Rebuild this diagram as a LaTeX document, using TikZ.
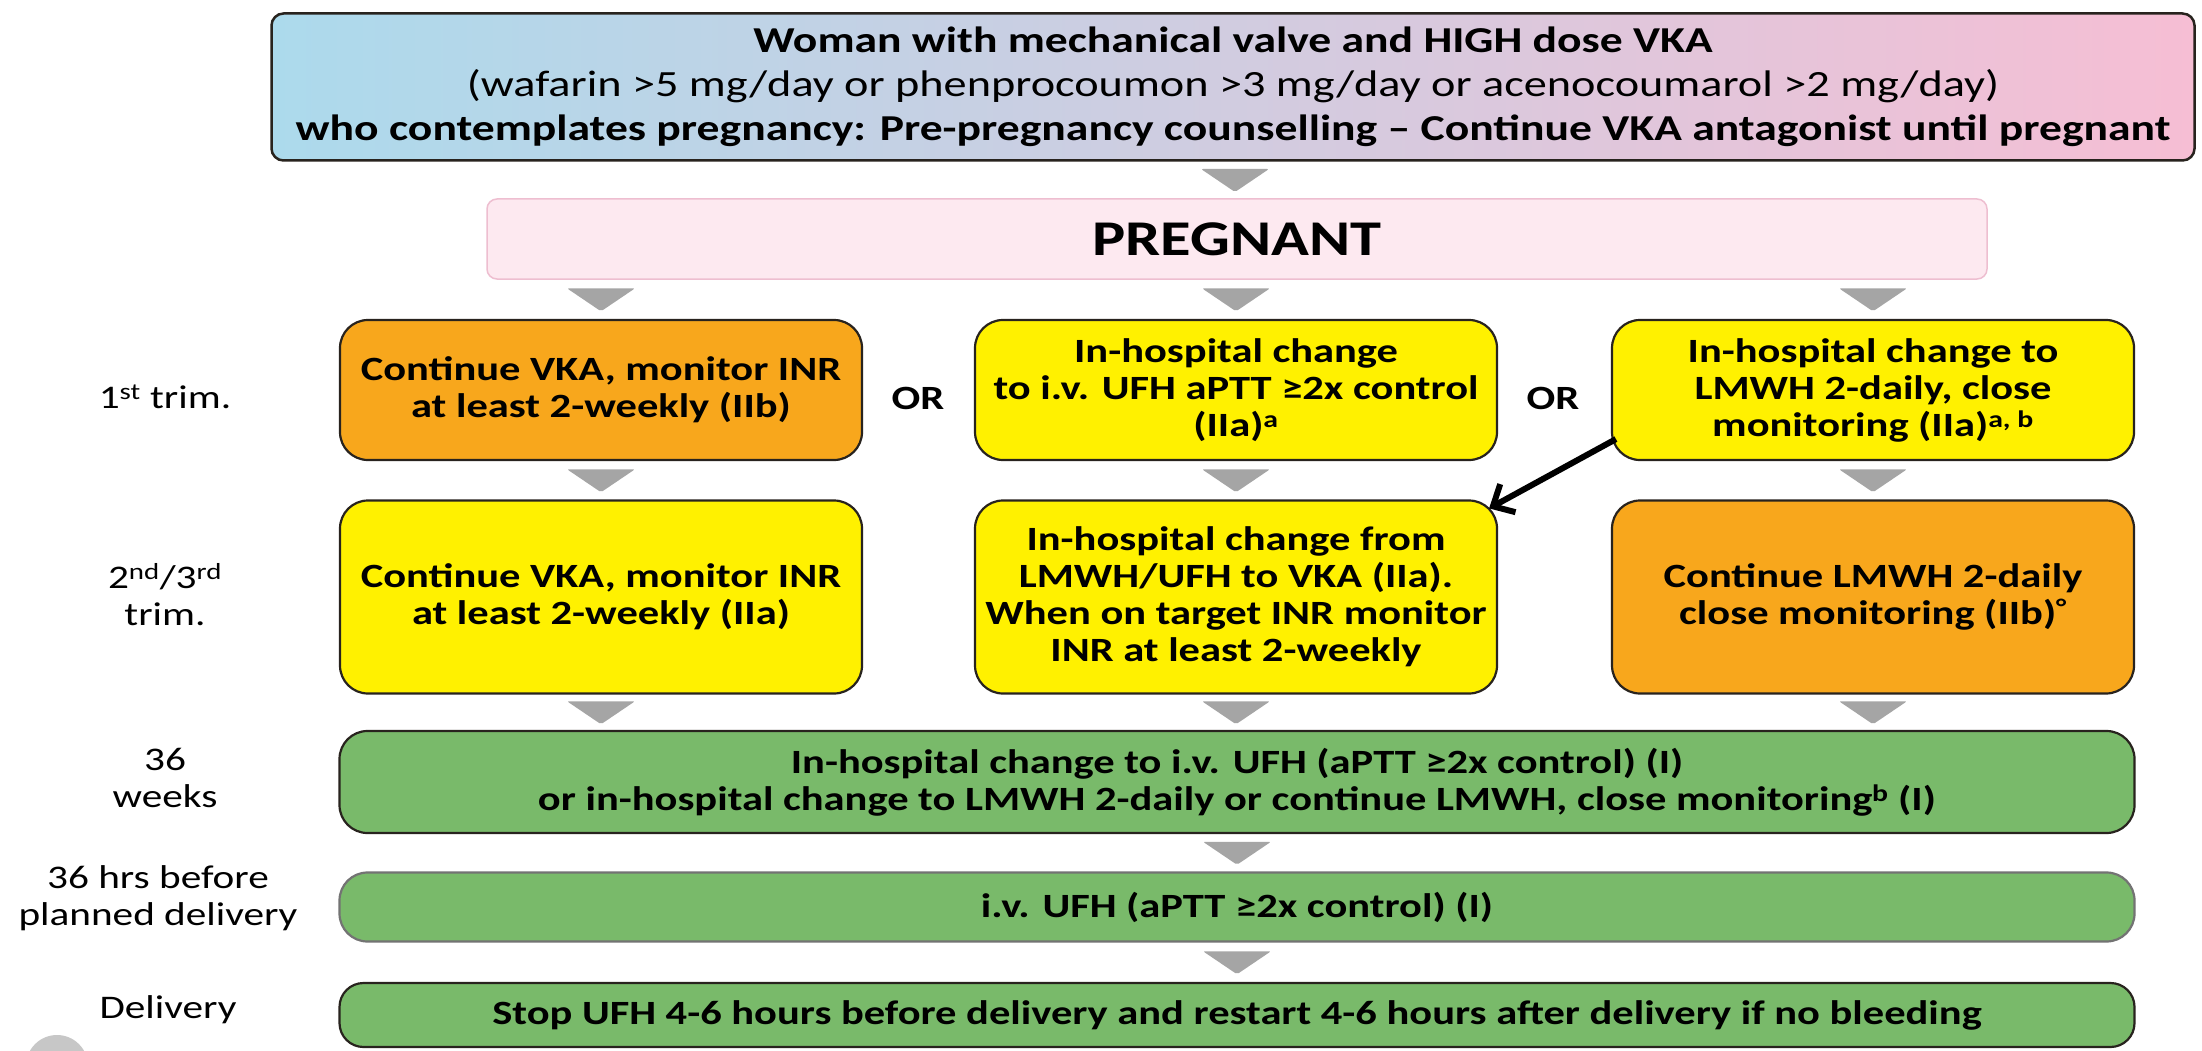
\documentclass[tikz,border=0pt]{standalone}
\usepackage{fontspec}
\setmainfont{Carlito}[FakeStretch=1.25]
\usetikzlibrary{arrows.meta,calc}

\definecolor{orng}{RGB}{248,167,28}
\definecolor{yllw}{RGB}{255,241,0}
\definecolor{grn}{RGB}{121,186,106}
\definecolor{tblue}{RGB}{172,218,236}
\definecolor{tpink}{RGB}{246,190,212}
\definecolor{pfill}{RGB}{253,233,240}
\definecolor{pline}{RGB}{238,190,208}
\definecolor{trig}{RGB}{165,165,165}
\definecolor{boxline}{RGB}{40,35,30}

\newcommand\rowfont{\fontsize{34}{37}\selectfont}
\newcommand\labfont{\fontsize{33}{37}\selectfont}
\newcommand\downtri[1]{\fill[trig,rounded corners=2pt] ($(#1)+(-34,-11)$) -- ($(#1)+(34,-11)$) -- ($(#1)+(0,12)$) -- cycle;}

\begin{document}
\begin{tikzpicture}[x=1pt,y=-1pt,
  box/.style={draw=boxline,line width=2.2pt,rounded corners=28pt,align=center,inner sep=0pt,font=\rowfont\bfseries},
  colbox/.style={box,minimum width=522pt},
  widebox/.style={box,minimum width=1795pt,fill=grn},
  lab/.style={align=center,inner sep=0pt,font=\labfont},
  orlab/.style={inner sep=0pt,font=\rowfont\bfseries}]
\useasboundingbox[fill=white] (0,0) rectangle (2202,1051);

% top box
\node[draw=boxline,line width=2.5pt,rounded corners=12pt,left color=tblue,right color=tpink,
  minimum width=1923pt,minimum height=147pt,align=center,inner sep=0pt,
  font=\fontsize{36.5}{44}\selectfont] (top) at (1233,87)
  {{\bfseries Woman with mechanical valve and HIGH dose VKA}\\
   {\fontsize{37}{44}\selectfont (wafarin >5 mg/day or phenprocoumon >3 mg/day or acenocoumarol >2 mg/day)}\\
   {\bfseries who contemplates pregnancy: Pre-pregnancy counselling – Continue VKA antagonist until pregnant}};

% pregnant
\node[draw=pline,line width=1.5pt,fill=pfill,rounded corners=10pt,minimum width=1500pt,minimum height=80pt,
  inner sep=0pt,font=\fontsize{50}{56}\selectfont\bfseries] (preg) at (1237,239) {PREGNANT};

% row 1
\node[colbox,fill=orng,minimum height=140pt] (a1) at (601,390) {Continue VKA, monitor INR\\at least 2-weekly (IIb)};
\node[colbox,fill=yllw,minimum height=140pt] (b1) at (1236,390) {In-hospital change\\to i.v. UFH aPTT ≥2x control\\(IIa)\textsuperscript{a}};
\node[colbox,fill=yllw,minimum height=140pt] (c1) at (1873,390) {In-hospital change to\\LMWH 2-daily, close\\monitoring (IIa)\textsuperscript{a, b}};
\node[orlab] (or1) at (918,398) {OR};
\node[orlab] (or2) at (1553,398) {OR};

% row 2
\node[colbox,fill=yllw,minimum height=193pt] (a2) at (601,597) {Continue VKA, monitor INR\\at least 2-weekly (IIa)};
\node[colbox,fill=yllw,minimum height=193pt] (b2) at (1236,597) {In-hospital change from\\LMWH/UFH to VKA (IIa).\\When on target INR monitor\\INR at least 2-weekly};
\node[colbox,fill=orng,minimum height=193pt] (c2) at (1873,597) {Continue LMWH 2-daily\\close monitoring (IIb)\textsuperscript{°}};

% rows 3-5
\node[widebox,minimum height=102pt] (r3) at (1237,782) {In-hospital change to i.v. UFH (aPTT ≥2x control) (I)\\or in-hospital change to LMWH 2-daily or continue LMWH, close monitoring\textsuperscript{b} (I)};
\node[widebox,draw=black!55,minimum height=69pt] (r4) at (1237,907) {i.v. UFH (aPTT ≥2x control) (I)};
\node[widebox,minimum height=64pt,rounded corners=24pt] (r5) at (1237,1015) {Stop UFH 4-6 hours before delivery and restart 4-6 hours after delivery if no bleeding};

% left labels
\node[lab] (l1) at (165,397) {1\textsuperscript{st} trim.};
\node[lab] (l2) at (165,595) {2\textsuperscript{nd}/3\textsuperscript{rd}\\trim.};
\node[lab] (l3) at (165,778) {36\\weeks};
\node[lab] (l4) at (158,898) {36 hrs before\\planned delivery};
\node[lab] (l5) at (168,1010) {Delivery};

% gray chevrons
\coordinate (m0) at ($(top.south)!0.5!(preg.north)$); \downtri{m0}
\foreach \c in {a,b,c} {
  \coordinate (\c p) at (\c1.north |- preg.south);
  \coordinate (\c m1) at ($(\c p)!0.5!(\c1.north)$); \downtri{\c m1}
  \coordinate (\c m2) at ($(\c1.south)!0.5!(\c2.north)$); \downtri{\c m2}
  \coordinate (\c q) at (\c2.south |- r3.north);
  \coordinate (\c m3) at ($(\c2.south)!0.5!(\c q)$); \downtri{\c m3}
}
\coordinate (m4) at ($(r3.south)!0.5!(r4.north)$); \downtri{m4}
\coordinate (m5) at ($(r4.south)!0.5!(r5.north)$); \downtri{m5}

% black arrow
\draw[line width=6pt,-{Straight Barb[length=17pt,width=32pt]}] ($(c1.south west)+(5,-22)$) -- ($(b2.north east)+(-9,9)$);

% corner decoration
\fill[black!22] (57,1066) circle (31pt);
\end{tikzpicture}
\end{document}
